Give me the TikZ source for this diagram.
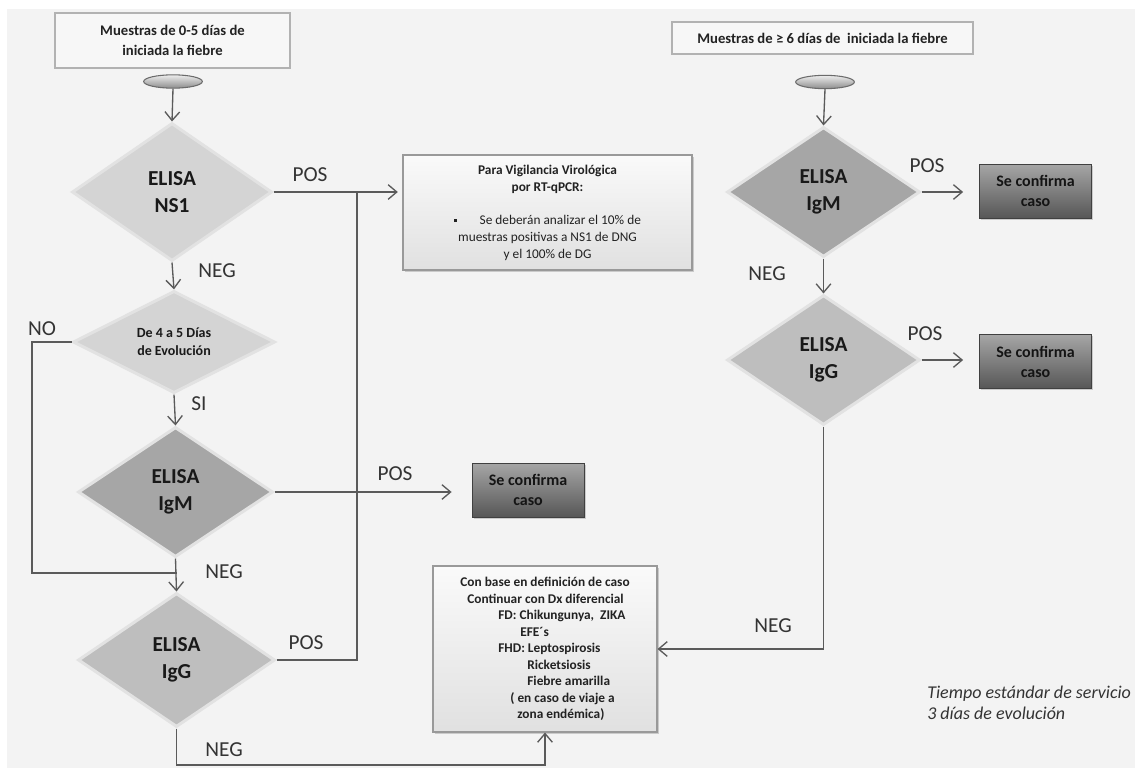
\documentclass[tikz,border=0pt]{standalone}
\usepackage{fontspec}
\setmainfont{Carlito}
\usetikzlibrary{shapes.geometric,arrows.meta,shadows,calc}
\definecolor{bgc}{HTML}{F3F3F3}
\definecolor{lc}{HTML}{5A5A5A}
\definecolor{dborder}{HTML}{E2E2E2}
\definecolor{dlight}{HTML}{D4D4D4}
\definecolor{dmid}{HTML}{BEBEBE}
\definecolor{ddark}{HTML}{A6A6A6}
\definecolor{tc}{HTML}{222222}
\definecolor{lt}{HTML}{333333}
\begin{document}
\begin{tikzpicture}[x=0.75pt,y=-0.75pt,
  dia/.style={diamond, draw=dborder, line width=2.25pt, inner sep=0pt, align=center,
    text=black!90, font=\bfseries\fontsize{16}{20}\selectfont},
  topbox/.style={rectangle, draw=black!30, fill=white!97!black, line width=0.8pt,
    align=center, text=tc, font=\bfseries\fontsize{11}{15}\selectfont},
  ell/.style={ellipse, draw=black!58, line width=0.8pt, top color=black!7, bottom color=black!45,
    minimum width=44pt, minimum height=10pt, inner sep=0pt},
  panel/.style={rectangle, draw=black!40, line width=0.8pt, top color=black!2, bottom color=black!12,
    drop shadow={shadow xshift=1.3pt, shadow yshift=-1.3pt, opacity=0.35}, text=tc},
  confirm/.style={rectangle, draw=black!75, line width=0.6pt, top color=black!35, middle color=black!48,
    bottom color=black!66, drop shadow={shadow xshift=1.2pt, shadow yshift=-1.2pt, opacity=0.35},
    minimum width=84pt, minimum height=40.5pt, align=center, text=black!92,
    font=\bfseries\fontsize{12}{15}\selectfont},
  lab/.style={font=\fontsize{16}{18}\selectfont, text=lt, inner sep=0pt},
  ln/.style={draw=lc, line width=1pt},
  arr/.style={ln, -{Straight Barb[length=6.5pt,width=11pt]}}
]
\useasboundingbox (0,0) rectangle (1135,768);
\fill[white] (0,0) rectangle (1135,768);
\fill[bgc] (7,9) rectangle (1135,768);

% left column
\node[topbox, minimum width=176.25pt, minimum height=41.25pt] (b1) at (172.5,40.5) {Muestras de 0-5 días de\\iniciada la fiebre};
\node[ell] (e1) at (173,81.5) {};
\node[dia, fill=dlight, minimum width=150pt, minimum height=103.5pt] (d1) at (172,192) {ELISA\\NS1};
\node[dia, fill=dlight, minimum width=151.5pt, minimum height=73.5pt,
  font=\bfseries\fontsize{10.5}{13.5}\selectfont] (d2) at (174,342) {De 4 a 5 Días\\de Evolución};
\node[dia, fill=ddark, minimum width=146.25pt, minimum height=97.5pt] (d3) at (175.5,492) {ELISA\\IgM};
\node[dia, fill=dmid, minimum width=147.75pt, minimum height=100.5pt] (d4) at (176.5,660) {ELISA\\IgG};

% middle
\node[panel, minimum width=216.75pt, minimum height=86.25pt, align=center,
  font=\fontsize{10}{12.75}\selectfont] (v) at (547.5,212.5)
  {\textbf{Para Vigilancia Virológica}\\\textbf{por RT-qPCR:}\\[12pt]
   \rule[0.3ex]{2.2pt}{2.2pt}\hspace{17pt}Se deberán analizar el 10\% de\\
   muestras positivas a NS1 de DNG\\y el 100\% de DG};
\node[confirm] (c1) at (528,490) {Se confirma\\caso};
\node[panel, minimum width=168pt, minimum height=124.5pt, align=left,
  font=\bfseries\fontsize{10}{12.4}\selectfont] (cb) at (545,649)
  {Con base en definición de caso\\
   \hspace*{5.25pt}Continuar con Dx diferencial\\
   \hspace*{28.5pt}FD: Chikungunya,~~ZIKA\\
   \hspace*{45pt}EFE´s\\
   \hspace*{28.5pt}FHD: Leptospirosis\\
   \hspace*{50.25pt}Ricketsiosis\\
   \hspace*{50.25pt}Fiebre amarilla\\
   \hspace*{37.5pt}( en caso de viaje a\\
   \hspace*{42.75pt}zona endémica)};

% right column
\node[topbox, minimum width=225.75pt, minimum height=24pt] (b2) at (822.5,38) {Muestras de ≥ 6 días de~~iniciada la fiebre};
\node[ell] (e2) at (825,82) {};
\node[dia, fill=ddark, minimum width=144.75pt, minimum height=97.5pt] (d5) at (823.5,192) {ELISA\\IgM};
\node[confirm] (c2) at (1035.5,191) {Se confirma\\caso};
\node[dia, fill=dmid, minimum width=144.75pt, minimum height=97.5pt] (d6) at (823.5,360) {ELISA\\IgG};
\node[confirm] (c3) at (1035.5,361.5) {Se confirma\\caso};

\node[anchor=west, align=left, inner sep=0pt, text=lt, font=\itshape\fontsize{13.5}{16}\selectfont] (note) at (927,702.5)
  {Tiempo estándar de servicio\\3 días de evolución};

% connector helpers
\coordinate (jx) at (357,192);
\coordinate (noc) at (32,573);
\coordinate (bot) at (0,765);

% connectors left
\draw[arr] (e1.south) -- (d1.north);
\draw[arr, shorten >=3.5pt] (d1.east) -- (d1.east -| v.west);
\draw[ln] (d4.east) -| (jx);
\draw[draw=lc, line width=2.2pt] ($(jx)+(-17,0)$) -- (jx);
\draw[arr] (d1.south) -- (d2.north);
\draw[ln] (d2.west) -| (noc) -- (noc -| d4.north);
\draw[arr] (d2.south) -- (d3.north);
\draw[arr, shorten >=15pt] (d3.east) -- (d3.east -| c1.west);
\draw[arr] (d3.south) -- (d4.north);
\draw[arr] (d4.south) |- (cb.south |- bot) -- (cb.south);

% connectors right
\draw[arr] (e2.south) -- (d5.north);
\draw[arr, shorten >=12pt] (d5.east) -- (d5.east -| c2.west);
\draw[arr] (d5.south) -- (d6.north);
\draw[arr, shorten >=12pt] (d6.east) -- (d6.east -| c3.west);
\draw[arr] (d6.south) |- (cb.east);

% labels
\node[lab] (l1) at (310,175) {POS};
\node[lab] (l2) at (217,271) {NEG};
\node[lab] (l3) at (42,329) {NO};
\node[lab] (l4) at (199,404) {SI};
\node[lab] (l5) at (395,474) {POS};
\node[lab] (l6) at (224,572) {NEG};
\node[lab] (l7) at (306,643) {POS};
\node[lab] (l8) at (224,750) {NEG};
\node[lab] (l9) at (773,626) {NEG};
\node[lab] (l10) at (767,274) {NEG};
\node[lab] (l11) at (927,166) {POS};
\node[lab] (l12) at (925,334) {POS};
\end{tikzpicture}
\end{document}
